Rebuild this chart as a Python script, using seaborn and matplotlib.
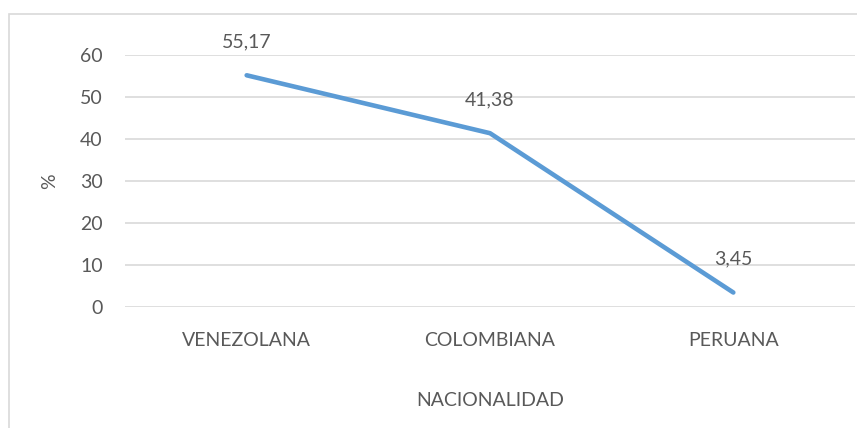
#!/usr/bin/env python3
"""Porcentaje por nacionalidad - grafico de lineas."""

import pandas as pd
import matplotlib.pyplot as plt
from matplotlib.patches import Rectangle
import seaborn as sns

nacionalidades = ['VENEZOLANA', 'COLOMBIANA', 'PERUANA']
porcentajes = [55.17, 41.38, 3.45]
y_ticks = [0, 10, 20, 30, 40, 50, 60]

LINE_COLOR = '#5B9BD5'
TEXT_COLOR = '#595959'
GRID_COLOR = '#D9D9D9'
FS = 14


def main():
    sns.set_theme(style='white')
    plt.rcParams['font.family'] = ['Lato', 'DejaVu Sans']

    df = pd.DataFrame({'nacionalidad': nacionalidades, 'pct': porcentajes})

    fig = plt.figure(figsize=(8.57, 4.28), dpi=100)
    ax = fig.add_axes([125 / 857, 121 / 428, 730 / 857, 252 / 428])

    # chart frame (light gray, cut at the right and bottom edges)
    fig.patches.append(Rectangle((8.5 / 857, -0.2), 1.2, (428 - 13.5) / 428 + 0.2,
                                 transform=fig.transFigure, fill=False,
                                 edgecolor=GRID_COLOR, linewidth=1.2))

    sns.lineplot(data=df, x='nacionalidad', y='pct', ax=ax, color=LINE_COLOR,
                 linewidth=3.3, solid_capstyle='round', sort=False)

    ax.set_xlim(-0.5, len(nacionalidades) - 0.5)
    ax.set_ylim(0, 60)
    ax.set_yticks(y_ticks)
    ax.yaxis.grid(True, color=GRID_COLOR, linewidth=1.2)
    ax.set_axisbelow(True)
    for s in ax.spines.values():
        s.set_visible(False)

    ax.tick_params(axis='both', length=0, labelsize=FS, labelcolor=TEXT_COLOR)
    ax.tick_params(axis='y', pad=16)
    ax.tick_params(axis='x', pad=18)

    ax.set_xlabel('NACIONALIDAD', fontsize=FS, color=TEXT_COLOR, labelpad=31)
    ax.set_ylabel('%', fontsize=FS, color=TEXT_COLOR, labelpad=16)

    for i, v in enumerate(porcentajes):
        ax.annotate(f'{v:.2f}'.replace('.', ','), (i, v), xytext=(0, 24),
                    textcoords='offset points', ha='center', va='center',
                    fontsize=FS, color=TEXT_COLOR)

    fig.savefig('out.png', dpi=100)


if __name__ == '__main__':
    main()
